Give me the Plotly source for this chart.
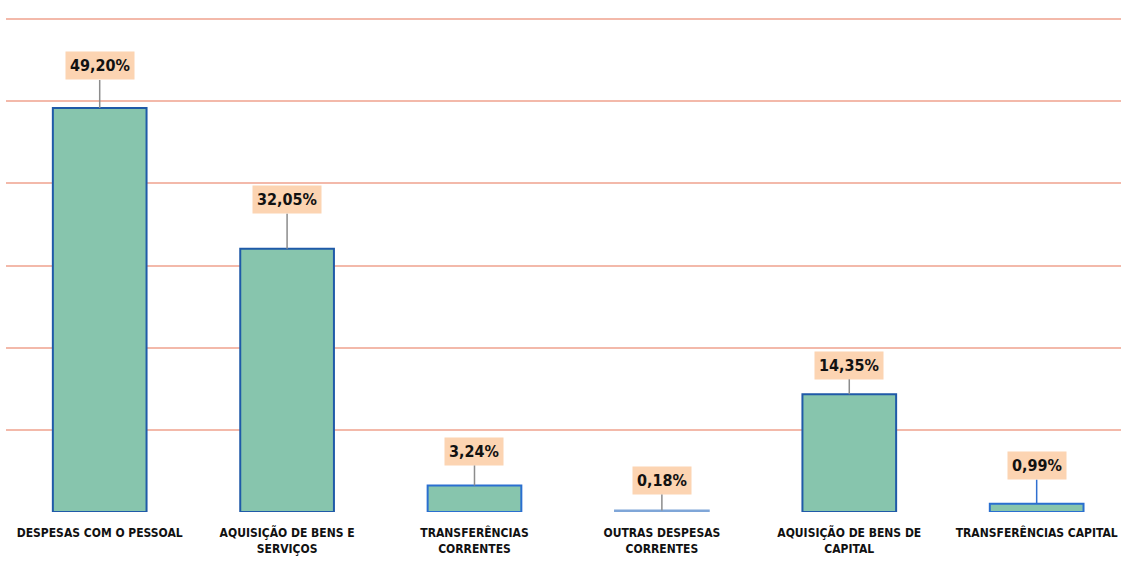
import plotly.graph_objects as go

categories = [
    "DESPESAS COM O PESSOAL",
    "AQUISIÇÃO DE BENS E<br>SERVIÇOS",
    "TRANSFERÊNCIAS<br>CORRENTES",
    "OUTRAS DESPESAS<br>CORRENTES",
    "AQUISIÇÃO DE BENS DE<br>CAPITAL",
    "TRANSFERÊNCIAS CAPITAL",
]
values = [49.20, 32.05, 3.24, 0.18, 14.35, 0.99]
label_offsets = [-42, -49, -34, -30, -29, -38]
arrow_colors = ["#8c8c8c", "#8c8c8c", "#8c8c8c", "#8c8c8c", "#8c8c8c", "#2f6fd0"]
bar_line_colors = ["#1f5aa8", "#1f5aa8", "#2a6fd0", "#7fa6d8", "#1f5aa8", "#2a6fd0"]

FONT = "Liberation Sans Narrow, Arial Narrow, DejaVu Sans Condensed, sans-serif"

x_idx = list(range(len(categories)))

fig = go.Figure()
fig.add_trace(go.Bar(
    x=x_idx,
    y=values,
    width=0.5,
    marker=dict(color="#87c5ad", line=dict(color=bar_line_colors, width=2)),
    hoverinfo="skip",
))

for i, v in enumerate(values):
    fig.add_annotation(
        x=i, y=v, xref="x", yref="y",
        text="<b>" + f"{v:.2f}".replace(".", ",") + "%</b>",
        showarrow=True, arrowhead=0, arrowwidth=1.5, arrowcolor=arrow_colors[i],
        ax=0, ay=label_offsets[i], standoff=0,
        bgcolor="#fcd4b2", borderpad=4,
        font=dict(family=FONT, size=16, color="#111111"),
    )

fig.update_layout(
    width=1121, height=561,
    margin=dict(l=6, r=0, t=11, b=49, autoexpand=False),
    paper_bgcolor="white", plot_bgcolor="white",
    showlegend=False,
    xaxis=dict(
        range=[-0.5, 5.45], automargin=False,
        tickmode="array", tickvals=x_idx,
        ticktext=["<b>" + c.replace("<br>", "</b><br><b>") + "</b>" for c in categories],
        tickfont=dict(family=FONT, size=12, color="#111111"),
        showgrid=False, zeroline=False, showline=False,
        ticks="", ticklabelstandoff=12, ticklabeloverflow="allow",
    ),
    yaxis=dict(
        range=[0, 61], automargin=False,
        dtick=10, showticklabels=False,
        showgrid=True, gridcolor="#f3b9aa", gridwidth=1.5,
        zeroline=False, showline=False,
    ),
)

fig.write_html("out.html", config={"displayModeBar": False},
               post_script="document.body.style.margin='0';")
